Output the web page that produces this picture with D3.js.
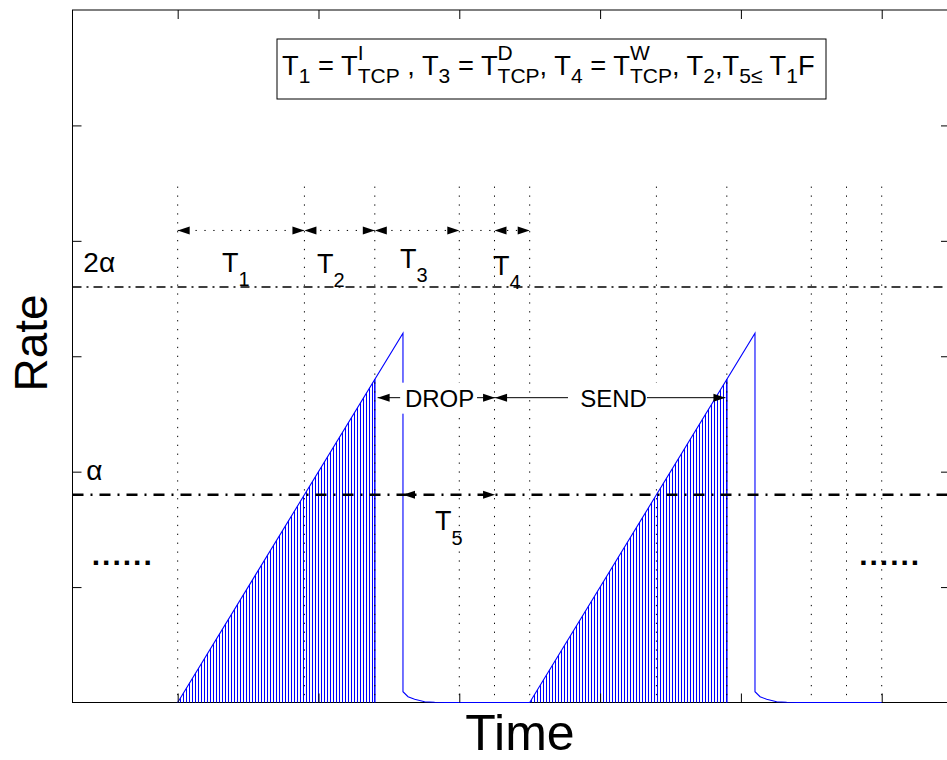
<!DOCTYPE html>
<html><head><meta charset="utf-8">
<script src="https://cdn.jsdelivr.net/npm/d3@7"></script>
<style>
body{margin:0;background:#fff}
svg{display:block}
text{font-family:"Liberation Sans",Arial,Helvetica,sans-serif;fill:#000;white-space:pre}
</style>
</head><body>
<svg id="c" width="947" height="760" xml:space="preserve"></svg>
<script>
// ---------------- data ----------------
const xTicks = [1, 2, 3, 4, 5, 6];
const yTicks = [1, 2, 3, 4, 5];
const alpha = 1.8;
const levelValues = [alpha, 2 * alpha];
const levelLabels = ["α", "2α"];
const levelWidths = [2.4, 1.4];
// sending rate over time (two TCP cycles)
const rateX = [1.0, 2.6, 2.6, 2.636, 2.683, 2.754, 2.825, 2.9, 3.5, 5.1, 5.1, 5.136, 5.183, 5.254, 5.325, 5.4, 6.0];
const rateY = [0, 3.2, 0.094, 0.05, 0.028, 0.007, 0.002, 0, 0, 3.2, 0.094, 0.05, 0.028, 0.007, 0.002, 0, 0];
// hatched (sent) regions
const sentStart = [1.0, 3.5];
const sentEnd = [2.4, 4.9];
const sentEndRate = [2.8, 2.8];
// dotted time markers
const markerTimes = [1.0, 1.9, 2.4, 3.0, 3.25, 3.5, 4.4, 4.9, 5.5, 5.75, 6.0];
const markerTop = 4.47;
// interval arrows T1..T4
const intervalSubs = ["1", "2", "3", "4"];
const intervalStart = [1.0, 1.9, 2.4, 3.25];
const intervalEnd = [1.9, 2.4, 3.0, 3.5];
const intervalRate = 4.09;

// ---------------- layout ----------------
const svg = d3.select("#c");
const x = d3.scaleLinear().domain([0.253, 6.485]).range([72.5, 950]);
const y = d3.scaleLinear().domain([0, 6]).range([702.5, 10]);
const BLUE = "#0000ff";

// hatch pattern
const defs = svg.append("defs");
const pat = defs.append("pattern").attr("id", "hatch").attr("patternUnits", "userSpaceOnUse")
  .attr("width", 3).attr("height", 20).attr("x", 0);
pat.append("rect").attr("x", 0).attr("y", 0).attr("width", 1).attr("height", 20).attr("fill", BLUE);

// frame
svg.append("rect").attr("x", x.range()[0]).attr("y", y.range()[1])
  .attr("width", x.range()[1] - x.range()[0]).attr("height", y.range()[0] - y.range()[1])
  .attr("fill", "#fff").attr("stroke", "#000").attr("stroke-width", 1);

// hatched areas
const area = d3.area().x(d => x(d[0])).y0(y(0)).y1(d => y(d[1]));
sentStart.forEach((s, i) => {
  const pts = [[s, 0], [sentEnd[i], sentEndRate[i]]];
  svg.append("path").attr("d", area(pts)).attr("fill", "url(#hatch)");
  svg.append("line").attr("x1", x(sentEnd[i])).attr("x2", x(sentEnd[i]))
    .attr("y1", y(0)).attr("y2", y(sentEndRate[i])).attr("stroke", BLUE).attr("stroke-width", 1.5);
});

// rate curve
const line = d3.line().x((d, i) => x(rateX[i])).y((d, i) => y(rateY[i]));
svg.append("path").attr("d", line(rateX)).attr("fill", "none")
  .attr("stroke", BLUE).attr("stroke-width", 1.1);

// dotted markers
svg.selectAll(".mk").data(markerTimes).enter().append("line")
  .attr("x1", d => x(d)).attr("x2", d => x(d)).attr("y1", y(markerTop)).attr("y2", y(0))
  .attr("stroke", "#000").attr("stroke-width", 1).attr("stroke-dasharray", "1.3,7.6");

// level lines (dash-dot)
levelValues.forEach((v, i) => {
  const w = levelWidths[i];
  svg.append("line").attr("x1", x.range()[0]).attr("x2", x.range()[1])
    .attr("y1", y(v)).attr("y2", y(v)).attr("stroke", "#000").attr("stroke-width", w)
    .attr("stroke-dasharray", w > 1.5 ? "11,7,2,7" : "9,5,2,5");
});

// axes ticks
function axisG(gen, tr) {
  const g = svg.append("g").attr("transform", tr).call(gen);
  g.select(".domain").remove();
  g.selectAll(".tick line").attr("stroke", "#000");
  return g;
}
axisG(d3.axisBottom(x).tickValues(xTicks).tickSize(-9).tickFormat(""), `translate(0,${y(0)})`);
axisG(d3.axisTop(x).tickValues(xTicks).tickSize(-9).tickFormat(""), `translate(0,${y(6)})`);
axisG(d3.axisLeft(y).tickValues(yTicks).tickSize(-9).tickFormat(""), `translate(${x.range()[0]},0)`);
axisG(d3.axisRight(y).tickValues(yTicks).tickSize(-9).tickFormat(""), `translate(${x.range()[1]},0)`);

// arrowheads
function head(xTip, yTip, dir, len = 12, hw = 4) {
  svg.append("path").attr("d",
    `M${xTip},${yTip} L${xTip - dir * len},${yTip - hw} L${xTip - dir * len},${yTip + hw} Z`)
    .attr("fill", "#000");
}
// interval arrows (dotted)
svg.append("line").attr("x1", x(intervalStart[0])).attr("x2", x(intervalEnd[intervalEnd.length - 1]))
  .attr("y1", y(intervalRate)).attr("y2", y(intervalRate)).attr("stroke", "#000")
  .attr("stroke-dasharray", "1.3,7.6");
intervalStart.forEach((s, i) => {
  head(x(s), y(intervalRate), -1);
  head(x(intervalEnd[i]), y(intervalRate), 1);
});

// interval labels
function subLabel(xp, yp, main, sub, fs, sfs, dy) {
  const t = svg.append("text").attr("x", xp).attr("y", yp).style("font-size", fs + "px");
  t.append("tspan").text(main);
  t.append("tspan").attr("dy", dy).style("font-size", sfs + "px").text(sub);
}
const labelX = [1.315, 1.989, 2.579, 3.239];
const labelY = [3.733, 3.722, 3.763, 3.705];
intervalSubs.forEach((s, i) => subLabel(x(labelX[i]), y(labelY[i]), "T", s, 27, 20, 14));
subLabel(x(2.828), y(1.495), "T", "5", 27, 20, 15);

// level labels
svg.append("text").attr("x", x(0.33)).attr("y", y(3.73)).style("font-size", "28px").text(levelLabels[1]);
svg.append("text").attr("x", x(0.35)).attr("y", y(1.93)).style("font-size", "28px").text(levelLabels[0]);

// ellipses
svg.append("text").attr("x", x(0.39)).attr("y", y(1.19)).style("font-size", "30px")
  .style("letter-spacing", "2px").style("font-weight", "bold").text("......");
svg.append("text").attr("x", x(5.84)).attr("y", y(1.19)).style("font-size", "30px")
  .style("letter-spacing", "2px").style("font-weight", "bold").text("......");

// DROP / SEND
const arrowRate = 2.641;
function boxText(cx, txt) {
  const t = svg.append("text").attr("x", x(cx)).attr("y", y(arrowRate) + 9)
    .attr("text-anchor", "middle").style("font-size", "24px").text(txt);
  const bb = t.node().getBBox();
  svg.insert("rect", () => t.node()).attr("x", bb.x - 12).attr("y", bb.y - 2)
    .attr("width", bb.width + 24).attr("height", bb.height + 4).attr("fill", "#fff");
}
boxText(2.86, "DROP");
boxText(4.095, "SEND");
function solidArrow(x0, x1, yv) {
  svg.append("line").attr("x1", x(x0)).attr("x2", x(x1)).attr("y1", y(yv)).attr("y2", y(yv))
    .attr("stroke", "#000").attr("stroke-width", 1);
  head(x(x1), y(yv), x1 > x0 ? 1 : -1);
}
solidArrow(2.58, 2.42, arrowRate);
solidArrow(3.126, 3.254, arrowRate);
solidArrow(3.772, 3.254, arrowRate);
solidArrow(4.333, 4.89, arrowRate);
// T5 arrow
head(x(2.6), y(alpha), -1);
head(x(3.254), y(alpha), 1);

// axis titles
svg.append("text").attr("transform", `translate(47,343) rotate(-90)`).attr("text-anchor", "middle")
  .style("font-size", "46px").text("Rate");
svg.append("text").attr("x", 520).attr("y", 750).attr("text-anchor", "middle")
  .style("font-size", "50px").text("Time");

// legend formula box
const box = svg.append("g");
const rect = box.append("rect").attr("fill", "#fff").attr("stroke", "#000").attr("stroke-width", 1);
const pieces = [
  {t: "T"}, {sub: "1"}, {t: " = T"}, {sup: "I", sub: "TCP"}, {t: " , T"}, {sub: "3"},
  {t: " = T"}, {sup: "D", sub: "TCP"}, {t: ", T"}, {sub: "4"}, {t: " = T"}, {sup: "W", sub: "TCP"},
  {t: ", T"}, {sub: "2"}, {t: ",T"}, {sub: "5≤"}, {t: " T"}, {sub: "1"}, {t: "F"}
];
let cx = 282, base = 75;
pieces.forEach(p => {
  let w = 0;
  if (p.t) {
    const t = box.append("text").attr("x", cx).attr("y", base).style("font-size", "27.3px").text(p.t);
    w = t.node().getComputedTextLength();
  } else {
    if (p.sup) {
      const t = box.append("text").attr("x", cx).attr("y", base - 15).style("font-size", "21px").text(p.sup);
      w = Math.max(w, t.node().getComputedTextLength());
    }
    const t = box.append("text").attr("x", cx).attr("y", base + 8).style("font-size", "21px").text(p.sub);
    w = Math.max(w, t.node().getComputedTextLength());
  }
  cx += w;
});
rect.attr("x", 277).attr("y", 39).attr("width", 549).attr("height", 60);
</script>
</body></html>
